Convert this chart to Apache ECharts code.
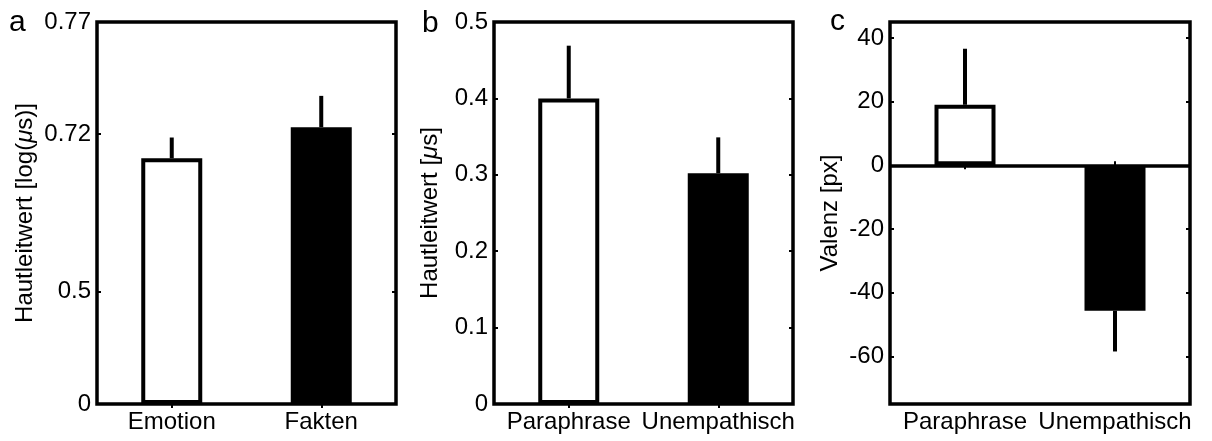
<!DOCTYPE html>
<html>
<head>
<meta charset="utf-8">
<script src="https://cdn.jsdelivr.net/npm/echarts@6/dist/echarts.min.js"></script>
<style>
  html, body { margin: 0; background: #fff; }
  #chart { width: 1212px; height: 441px; }
</style>
</head>
<body>
<div id="chart"></div>
<script>
// panel a
var catsA = ['Emotion', 'Fakten'];
var meanA = [0.686, 0.723];
var errA = [0.715, 0.737];
var ticksA = [0, 0.5, 0.72, 0.77];
// the axis in panel a is not linear: fraction of the axis height at each tick label
var tickFracA = [0, 0.294, 0.707, 1];

// panel b
var catsB = ['Paraphrase', 'Unempathisch'];
var meanB = [0.40, 0.302];
var errB = [0.469, 0.349];

// panel c
var catsC = ['Paraphrase', 'Unempathisch'];
var meanC = [19, -45.7];
var errC = [36.6, -58.5];
var ticksC = [-60, -40, -20, 0, 20, 40];

var FONT = '"Liberation Sans", Arial, Helvetica, sans-serif';

// piecewise map a value of panel a onto its axis
function scaleA(v) {
    for (var i = 1; i < ticksA.length; i++) {
        if (v <= ticksA[i] || i === ticksA.length - 1) {
            var t = (v - ticksA[i - 1]) / (ticksA[i] - ticksA[i - 1]);
            return tickFracA[i - 1] + t * (tickFracA[i] - tickFracA[i - 1]);
        }
    }
}
function labelA(v) {
    var best = 0;
    tickFracA.forEach(function (p, i) {
        if (Math.abs(p - v) < Math.abs(tickFracA[best] - v)) best = i;
    });
    return String(ticksA[best]);
}

var grids = [
    { left: 97, top: 22, width: 299, height: 382 },
    { left: 494, top: 22, width: 299, height: 382 },
    { left: 890, top: 22, width: 300, height: 382 }
].map(function (g) {
    return Object.assign({ show: true, borderColor: '#000', borderWidth: 3.5, backgroundColor: 'transparent' }, g);
});

var tick = { show: true, inside: true, length: 4, lineStyle: { color: '#000', width: 2 } };
var label = { color: '#000', fontSize: 24, fontFamily: FONT };

function xAx(i, cats, pos) {
    return {
        type: 'category', gridIndex: i, position: pos, data: cats, boundaryGap: true,
        axisLine: { show: false },
        axisTick: Object.assign({ alignWithLabel: true, interval: 0 }, tick),
        axisLabel: Object.assign({ show: pos === 'bottom', margin: 6, interval: 0, hideOverlap: false }, label),
        splitLine: { show: false }
    };
}

function yAx(i, pos, extra) {
    return Object.assign({
        type: 'value', gridIndex: i, position: pos,
        axisLine: { show: false },
        axisTick: Object.assign({}, tick),
        axisLabel: Object.assign({ show: pos === 'left', margin: 6 }, label),
        splitLine: { show: false },
        nameLocation: 'middle', nameRotate: 90,
        nameTextStyle: {
            color: '#000', fontSize: 24, fontFamily: FONT,
            rich: { i: { fontStyle: 'italic', fontSize: 24, fontFamily: FONT, color: '#000' } }
        }
    }, extra);
}

function yA(pos) {
    var y = yAx(0, pos, { min: 0, max: 1 });
    y.axisTick.customValues = tickFracA;
    y.axisLabel.customValues = tickFracA;
    y.axisLabel.formatter = labelA;
    if (pos === 'left') { y.name = 'Hautleitwert [log({i|\u03bc}s)]'; y.nameGap = 60; }
    return y;
}
function yB(pos) {
    var y = yAx(1, pos, { min: 0, max: 0.5, interval: 0.1 });
    if (pos === 'left') { y.name = 'Hautleitwert [{i|\u03bc}s]'; y.nameGap = 52; }
    return y;
}
function yC(pos) {
    var y = yAx(2, pos, { min: -75, max: 45 });
    y.axisTick.customValues = ticksC;
    y.axisLabel.customValues = ticksC;
    if (pos === 'left') { y.name = 'Valenz [px]'; y.nameGap = 48; }
    return y;
}

function barSeries(i, means, map) {
    return {
        type: 'bar', xAxisIndex: i, yAxisIndex: i, barWidth: 61, z: 3,
        itemStyle: { borderColor: '#000', borderWidth: 4 },
        data: means.map(function (m, k) {
            return { value: map(m), itemStyle: { color: k === 0 ? '#fff' : '#000' } };
        })
    };
}

function errSeries(i, means, errs, map) {
    return {
        type: 'custom', xAxisIndex: i, yAxisIndex: i, z: 4,
        encode: { x: 0, y: [1, 2] },
        data: means.map(function (m, k) { return [k, map(m), map(errs[k])]; }),
        renderItem: function (params, api) {
            var a = api.coord([api.value(0), api.value(1)]);
            var b = api.coord([api.value(0), api.value(2)]);
            return {
                type: 'line',
                shape: { x1: a[0], y1: a[1], x2: b[0], y2: b[1] },
                style: { stroke: '#000', lineWidth: 4 }
            };
        }
    };
}

var same = function (v) { return v; };
var barC = barSeries(2, meanC, same);
barC.markLine = {
    silent: true, symbol: ['none', 'none'], label: { show: false },
    lineStyle: { color: '#000', width: 3.5, type: 'solid' },
    data: [{ yAxis: 0 }]
};

var letters = [['a', 9, 22.5], ['b', 422, 24], ['c', 830, 22]].map(function (l) {
    return {
        type: 'text', x: l[1], y: l[2],
        style: { text: l[0], fontSize: 30, fontFamily: FONT, fill: '#000', verticalAlign: 'middle' }
    };
});

var chart = echarts.init(document.getElementById('chart'));
chart.setOption({
    animation: false,
    grid: grids,
    xAxis: [
        xAx(0, catsA, 'bottom'), xAx(1, catsB, 'bottom'), xAx(2, catsC, 'bottom'),
        xAx(0, catsA, 'top'), xAx(1, catsB, 'top'), xAx(2, catsC, 'top')
    ],
    yAxis: [yA('left'), yB('left'), yC('left'), yA('right'), yB('right'), yC('right')],
    graphic: letters,
    series: [
        barSeries(0, meanA, scaleA), errSeries(0, meanA, errA, scaleA),
        barSeries(1, meanB, same), errSeries(1, meanB, errB, same),
        barC, errSeries(2, meanC, errC, same)
    ]
});
</script>
</body>
</html>
